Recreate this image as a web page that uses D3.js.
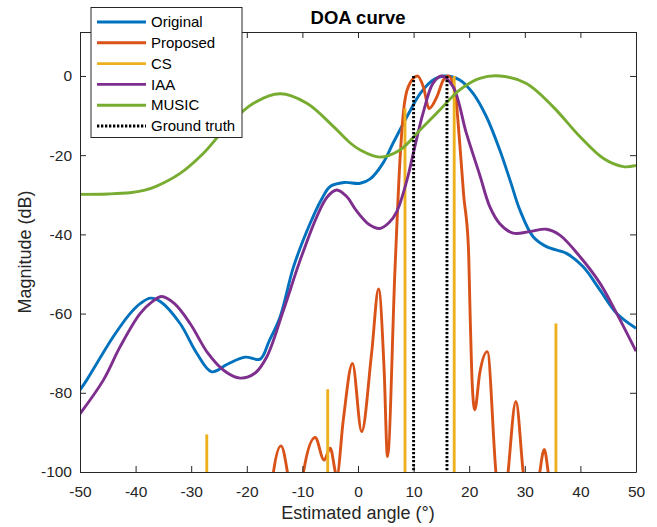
<!DOCTYPE html>
<html>
<head>
<meta charset="utf-8">
<script src="https://cdn.jsdelivr.net/npm/d3@7"></script>
<style>
  body { margin: 0; background: #fff; }
  svg { font-family: "Liberation Sans", Arial, sans-serif; }
</style>
</head>
<body>
<div id="chart"></div>
<script>
// values: [angle (deg), magnitude (dB)]
var original = [[-50,-79.3],[-48.8,-76.8],[-44,-65.8],[-41,-60],[-39,-57.3],[-37.3,-56.1],[-35.5,-57],[-32,-62.5],[-29,-70],[-26.3,-74.7],[-23.5,-72.8],[-20.3,-71],[-17.6,-71.5],[-16,-67],[-14,-60.8],[-11.6,-48.2],[-8.6,-37.2],[-6.5,-31],[-5,-27.9],[-2.5,-26.9],[0.4,-27.1],[2.2,-26],[4.5,-22],[6.3,-17],[8.8,-10.3],[11.2,-4.4],[13.5,-1],[15.6,0],[18.3,-1],[20.7,-4.4],[23.1,-10.3],[25.5,-18.7],[27.5,-27],[29.1,-33.8],[31.5,-40.6],[33.9,-43.1],[37.5,-44.8],[40.5,-48.2],[43.5,-54],[46.5,-59.9],[50,-63.7]];

var proposed = [[-16,-112],[-15.2,-100],[-13.85,-93.4],[-12.7,-100],[-11.2,-118],[-9.8,-100],[-7.7,-91.3],[-6.1,-97],[-5.0,-94],[-3.8,-101],[-2.65,-86.9],[-1.0,-72.6],[0.66,-89.8],[2.45,-70],[3.7,-53.8],[4.7,-74.2],[5.3,-96.1],[6.65,-49],[7.55,-21.2],[8.15,-9.4],[9.05,-2.7],[10.7,0],[11.75,-2.7],[12.8,-8.2],[14.2,-5.2],[15.35,-1],[16.25,0],[17.4,-3.5],[18.3,-17],[19.0,-30],[19.85,-43],[20.2,-62],[20.55,-78],[21.0,-84.3],[21.9,-75],[23.25,-69.6],[24.8,-100],[26,-115],[27,-100],[28.4,-82.2],[29.7,-100],[31.2,-118],[32.7,-100],[33.5,-94.3],[34.2,-100],[35,-110]];

var csAngles = [-27.2, -5.45, 8.45, 17.3, 35.6];
var csValues = [-90.5, -79.1, -8.2, 0, -62.5];

var iaa = [[-50,-85.3],[-45.8,-76.8],[-42.8,-68.4],[-39.2,-60],[-37,-57],[-35.3,-55.7],[-33,-57.5],[-30.2,-62.5],[-27,-70],[-24,-74.5],[-21.2,-76.3],[-18.5,-75],[-16.4,-70.9],[-13.4,-59.1],[-10.4,-46.5],[-7.4,-35.5],[-5.5,-30.5],[-3.8,-28.8],[-2,-30.5],[-0.4,-33.8],[2,-37.5],[3.95,-38.5],[5.6,-37],[6.95,-34.3],[8.8,-26.3],[9.95,-19.5],[11.7,-9.4],[13.5,-1.8],[15.05,0],[17.1,-2.7],[19.5,-14.5],[21.9,-25],[23.7,-33],[25.5,-37.3],[27.9,-39.7],[30.9,-39.3],[33.9,-38.7],[36.3,-40.2],[39.9,-45.6],[43.5,-52.3],[46.5,-59.9],[50,-69.5]];

var music = [[-50,-29.9],[-45,-29.8],[-41,-29.5],[-38.5,-28.9],[-36.2,-27.8],[-32,-24.6],[-27.8,-19.5],[-23.6,-12.8],[-18.8,-6.9],[-14,-4.5],[-9.2,-6.9],[-4.4,-12.8],[-1.5,-16.8],[0.4,-18.7],[3.95,-20.5],[7.55,-18.7],[11.2,-13.6],[14.7,-8.6],[18.3,-3.5],[21.9,-0.6],[25.5,0],[30.3,-1.9],[35.1,-7.8],[39.9,-15.3],[44.1,-20.8],[47.7,-22.9],[50,-22.6]];

var truthAngles = [10, 16];

var xTicks = [-50, -40, -30, -20, -10, 0, 10, 20, 30, 40, 50];
var yTicks = [-100, -80, -60, -40, -20, 0];
var legendNames = ["Original", "Proposed", "CS", "IAA", "MUSIC", "Ground truth"];
var colors = ["#0072BD", "#D95319", "#EDB120", "#7E2F8E", "#77AC30", "#000000"];

var width = 657, height = 527;
var plotLeft = 80, plotRight = 636, plotTop = 32, plotBottom = 472;
var lw = 2.9;

var svg = d3.select("#chart").append("svg")
    .attr("width", width)
    .attr("height", height);

var x = d3.scaleLinear().domain([-50, 50]).range([plotLeft, plotRight]);
var y = d3.scaleLinear().domain([-100, 11.1]).range([plotBottom, plotTop]);

svg.append("clipPath").attr("id", "plot")
  .append("rect")
    .attr("x", plotLeft).attr("y", plotTop)
    .attr("width", plotRight - plotLeft).attr("height", plotBottom - plotTop);

var smooth = d3.line()
    .x(d => x(d[0]))
    .y(d => y(d[1]))
    .curve(d3.curveCatmullRom.alpha(0.5));

var lobes = d3.line()
    .x(d => x(d[0]))
    .y(d => y(d[1]))
    .curve(d3.curveMonotoneX);

var g = svg.append("g").attr("clip-path", "url(#plot)");

function drawCurve(data, color, gen) {
  g.append("path")
    .datum(data)
    .attr("fill", "none")
    .attr("stroke", color)
    .attr("stroke-width", lw)
    .attr("stroke-linejoin", "round")
    .attr("d", gen);
}

drawCurve(original, colors[0], smooth);
drawCurve(proposed, colors[1], lobes);

g.selectAll("line.cs")
  .data(csAngles)
  .enter().append("line")
    .attr("class", "cs")
    .attr("x1", d => x(d)).attr("x2", d => x(d))
    .attr("y1", y(-105))
    .attr("y2", (d, i) => y(csValues[i]))
    .attr("stroke", colors[2])
    .attr("stroke-width", lw);

drawCurve(iaa, colors[3], smooth);
drawCurve(music, colors[4], smooth);

g.selectAll("line.truth")
  .data(truthAngles)
  .enter().append("line")
    .attr("class", "truth")
    .attr("x1", d => x(d)).attr("x2", d => x(d))
    .attr("y1", y(0)).attr("y2", y(-100))
    .attr("stroke", "#000")
    .attr("stroke-width", lw)
    .attr("stroke-dasharray", "2.3,1.7");

// axes (box on, ticks inward)
var axisColor = "#262626";

var xAxis = svg.append("g")
    .attr("transform", `translate(0,${plotBottom})`)
    .call(d3.axisBottom(x).tickValues(xTicks).tickFormat(d => String(d))
      .tickSizeInner(-6).tickSizeOuter(0).tickPadding(14));
var xTop = svg.append("g")
    .attr("transform", `translate(0,${plotTop})`)
    .call(d3.axisTop(x).tickValues(xTicks).tickFormat("")
      .tickSizeInner(-6).tickSizeOuter(0));
var yAxis = svg.append("g")
    .attr("transform", `translate(${plotLeft},0)`)
    .call(d3.axisLeft(y).tickValues(yTicks).tickFormat(d => String(d))
      .tickSizeInner(-6).tickSizeOuter(0).tickPadding(8));
var yRight = svg.append("g")
    .attr("transform", `translate(${plotRight},0)`)
    .call(d3.axisRight(y).tickValues(yTicks).tickFormat("")
      .tickSizeInner(-6).tickSizeOuter(0));

[xAxis, xTop, yAxis, yRight].forEach(function (a) {
  a.selectAll("path.domain").attr("stroke", axisColor).attr("stroke-width", 1);
  a.selectAll(".tick line").attr("stroke", axisColor);
  a.selectAll("text")
    .attr("fill", axisColor)
    .style("font-size", "15.5px")
    .style("font-family", "'Liberation Sans', Arial, sans-serif");
});

svg.append("text")
    .attr("x", (plotLeft + plotRight) / 2).attr("y", 24)
    .attr("text-anchor", "middle")
    .style("font-size", "18.5px").style("font-weight", "bold")
    .attr("fill", "#000")
    .text("DOA curve");

svg.append("text")
    .attr("x", (plotLeft + plotRight) / 2).attr("y", 519)
    .attr("text-anchor", "middle")
    .style("font-size", "18px")
    .attr("fill", axisColor)
    .text("Estimated angle (°)");

svg.append("text")
    .attr("transform", `translate(31,${(plotTop + plotBottom) / 2}) rotate(-90)`)
    .attr("text-anchor", "middle")
    .style("font-size", "18px")
    .attr("fill", axisColor)
    .text("Magnitude (dB)");

// legend
var legend = svg.append("g");
legend.append("rect")
    .attr("x", 91).attr("y", 7.5)
    .attr("width", 151).attr("height", 130)
    .attr("fill", "#fff")
    .attr("stroke", axisColor)
    .attr("stroke-width", 1);

var items = legend.selectAll("g.item")
  .data(legendNames)
  .enter().append("g")
    .attr("class", "item")
    .attr("transform", (d, i) => `translate(0,${22 + i * 20.8})`);

items.append("line")
    .attr("x1", 97).attr("x2", 146)
    .attr("stroke", (d, i) => colors[i])
    .attr("stroke-width", lw)
    .attr("stroke-dasharray", (d, i) => i == 5 ? "2.3,1.7" : null);

items.append("text")
    .attr("x", 151).attr("dy", "0.35em")
    .style("font-size", "15px")
    .attr("fill", "#000")
    .text(d => d);
</script>
</body>
</html>
